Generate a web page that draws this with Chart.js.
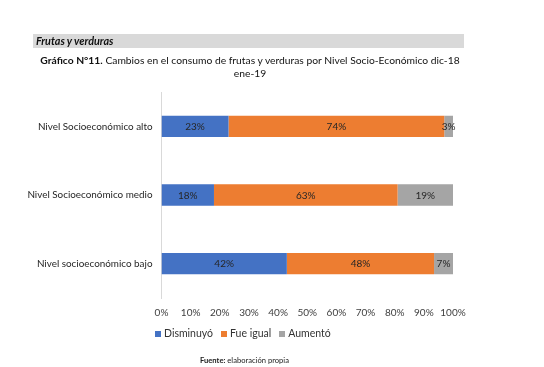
<!DOCTYPE html>
<html><head><meta charset="utf-8">
<script src="https://cdn.jsdelivr.net/npm/chart.js@4.4.0/dist/chart.umd.min.js"></script>
<style>
html,body{margin:0;padding:0;background:#fff;}
#wrap{position:relative;width:544px;height:367px;overflow:hidden;font-family:Lato,"Noto Sans",sans-serif;color:#000;}
#band{position:absolute;left:33px;top:34px;width:431px;height:14px;background:#d9d9d9;}
#band span{position:absolute;left:3px;top:0px;font-size:10.8px;font-weight:bold;font-style:italic;line-height:14px;color:#111;}
#title{position:absolute;left:0;width:500px;top:54px;text-align:center;font-size:10.3px;line-height:13px;color:#111;}
#legend{position:absolute;top:327px;left:155px;font-size:10.5px;color:#333;white-space:nowrap;}
#legend .it{display:inline-block;margin-right:8px;}
#legend .sw{display:inline-block;width:6px;height:6px;margin-right:3px;vertical-align:0px;}
#foot{position:absolute;top:355px;left:200px;font-size:7.6px;color:#222;}
canvas{position:absolute;left:0;top:0;}
</style></head>
<body><div id="wrap">
<canvas id="c" width="544" height="367"></canvas>
<div id="band"><span>Frutas y verduras</span></div>
<div id="title"><b>Gráfico N°11.</b> Cambios en el consumo de frutas y verduras por Nivel Socio-Económico dic-18<br>ene-19</div>
<div id="legend"></div>
<div id="foot"><b>Fuente:</b> elaboración propia</div>
</div>
<script>
const categories = ["Nivel Socioeconómico alto", "Nivel Socioeconómico medio", "Nivel socioeconómico bajo"];
const seriesNames = ["Disminuyó", "Fue igual", "Aumentó"];
const seriesColors = ["#4472c4", "#ed7d31", "#a5a5a5"];
const disminuyo = [23, 18, 43];
const fueIgual = [74, 63, 50.5];
const aumento = [3, 19, 6.5];
const disminuyoLabels = ["23%", "18%", "42%"];
const fueIgualLabels = ["74%", "63%", "48%"];
const aumentoLabels = ["3%", "19%", "7%"];
const xTicks = [0, 10, 20, 30, 40, 50, 60, 70, 80, 90, 100];

const values = [disminuyo, fueIgual, aumento];
const labelTexts = [disminuyoLabels, fueIgualLabels, aumentoLabels];

const leg = document.getElementById('legend');
seriesNames.forEach((n, i) => {
  const s = document.createElement('span'); s.className = 'it';
  s.innerHTML = '<span class="sw" style="background:' + seriesColors[i] + '"></span>' + n;
  leg.appendChild(s);
});

const labelPlugin = {
  id: 'barLabels',
  afterDatasetsDraw(chart) {
    const ctx = chart.ctx;
    ctx.save();
    ctx.font = '10px Lato, "Noto Sans", sans-serif';
    ctx.fillStyle = '#262626';
    ctx.textAlign = 'center';
    ctx.textBaseline = 'middle';
    chart.data.datasets.forEach((ds, di) => {
      chart.getDatasetMeta(di).data.forEach((bar, i) => {
        const p = bar.getProps(['x', 'y', 'base'], true);
        ctx.fillText(labelTexts[di][i], (p.x + p.base) / 2, p.y + 0.5);
      });
    });
    ctx.restore();
  }
};

new Chart(document.getElementById('c'), {
  type: 'bar',
  data: {
    labels: categories,
    datasets: seriesNames.map((n, i) => ({
      label: n, data: values[i], backgroundColor: seriesColors[i],
      borderWidth: 0, categoryPercentage: 0.31, barPercentage: 1
    }))
  },
  options: {
    indexAxis: 'y',
    responsive: false,
    animation: false,
    layout: { padding: { top: 92, right: 91, bottom: 47, left: 0 } },
    plugins: { legend: { display: false }, tooltip: { enabled: false } },
    scales: {
      x: {
        stacked: true, min: 0, max: 100,
        afterBuildTicks: (s) => { s.ticks = xTicks.map(v => ({ value: v })); },
        afterFit: (s) => { s.height = 22; },
        grid: { display: false, drawTicks: false },
        border: { display: false },
        ticks: { padding: 9, color: '#404040', font: { family: 'Lato, "Noto Sans", sans-serif', size: 10 }, callback: v => v + '%', maxRotation: 0, autoSkip: false }
      },
      y: {
        stacked: true,
        afterFit: (s) => { s.width = 161.5; },
        grid: { display: false, drawTicks: false },
        border: { display: true, color: '#d9d9d9', width: 1 },
        ticks: { padding: 9, color: '#262626', font: { family: 'Lato, "Noto Sans", sans-serif', size: 9.9 } }
      }
    }
  },
  plugins: [labelPlugin]
});
</script>
</body></html>
